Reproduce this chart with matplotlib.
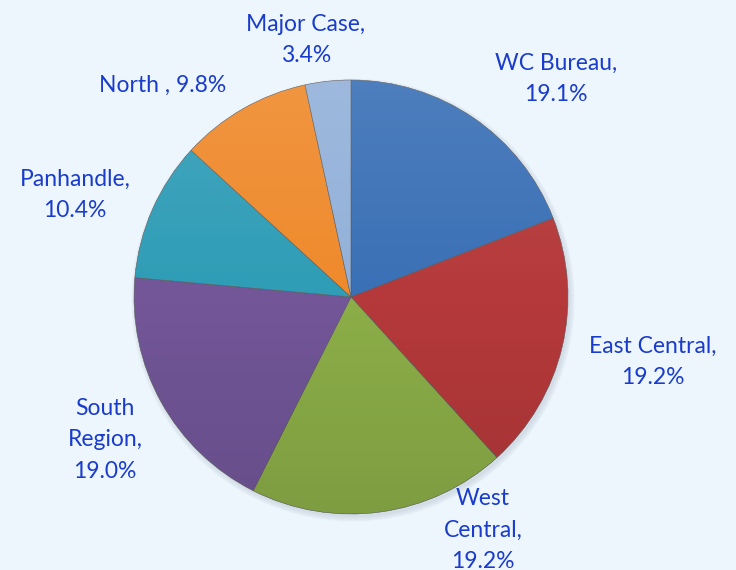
import numpy as np
import matplotlib.pyplot as plt
from matplotlib.patches import Circle

labels = ['WC Bureau', 'East Central', 'West Central', 'South Region',
          'Panhandle', 'North ', 'Major Case']
shares = [19.1, 19.2, 19.2, 19.0, 10.4, 9.8, 3.4]
colors = ['#3a70b6', '#b5393a', '#8cae48', '#725698', '#2f9db6', '#ef8a2c', '#93b1d9']
# text shown next to each slice (line breaks as in the original)
label_text = ['WC Bureau,\n19.1%', 'East Central,\n19.2%', 'West\nCentral,\n19.2%',
              'South\nRegion,\n19.0%', 'Panhandle,\n10.4%', 'North , 9.8%',
              'Major Case,\n3.4%']
# label centres in pixels (layout only)
label_pos = [(556, 79), (653, 362), (483, 530), (105, 440), (75, 195), (163, 85), (306, 40)]

W, H = 736, 570
bg = '#edf6fd'
fig = plt.figure(figsize=(W / 100, H / 100), dpi=100, facecolor=bg)
ax = fig.add_axes([0, 0, 1, 1])
ax.set_facecolor(bg)

cx, cy, r = 351, H - 297, 217

# soft shadow
for k in range(6):
    ax.add_patch(Circle((cx + 2, cy - 3), r + 4 - k, color='#8899aa', alpha=0.04, zorder=1))

wedges, _ = ax.pie(shares, colors=colors, startangle=90, counterclock=False,
                   center=(cx, cy), radius=r, frame=True,
                   wedgeprops=dict(edgecolor='#5a5a5a', linewidth=0.4))
for w in wedges:
    w.set_zorder(2)

# light from the top, darker at the bottom
grad = np.linspace(0, 1, 256)
img = np.zeros((256, 1, 4))
img[:, 0, :3] = np.where(grad < 0.5, 1.0, 0.0)[:, None]
img[:, 0, 3] = np.abs(grad - 0.5) * 0.2
im = ax.imshow(img, extent=(cx - r, cx + r, cy - r, cy + r), aspect='auto',
               origin='upper', zorder=3, interpolation='bilinear')
im.set_clip_path(Circle((cx, cy), r, transform=ax.transData))

ax.set_xlim(0, W)
ax.set_ylim(0, H)
ax.axis('off')

for txt, (px, py) in zip(label_text, label_pos):
    ax.text(px, H - py, txt, ha='center', va='center', fontsize=16.5,
            family='Lato', color='#1a3ccc', linespacing=1.62, zorder=5)

fig.savefig('out.png', dpi=100, facecolor=bg)
